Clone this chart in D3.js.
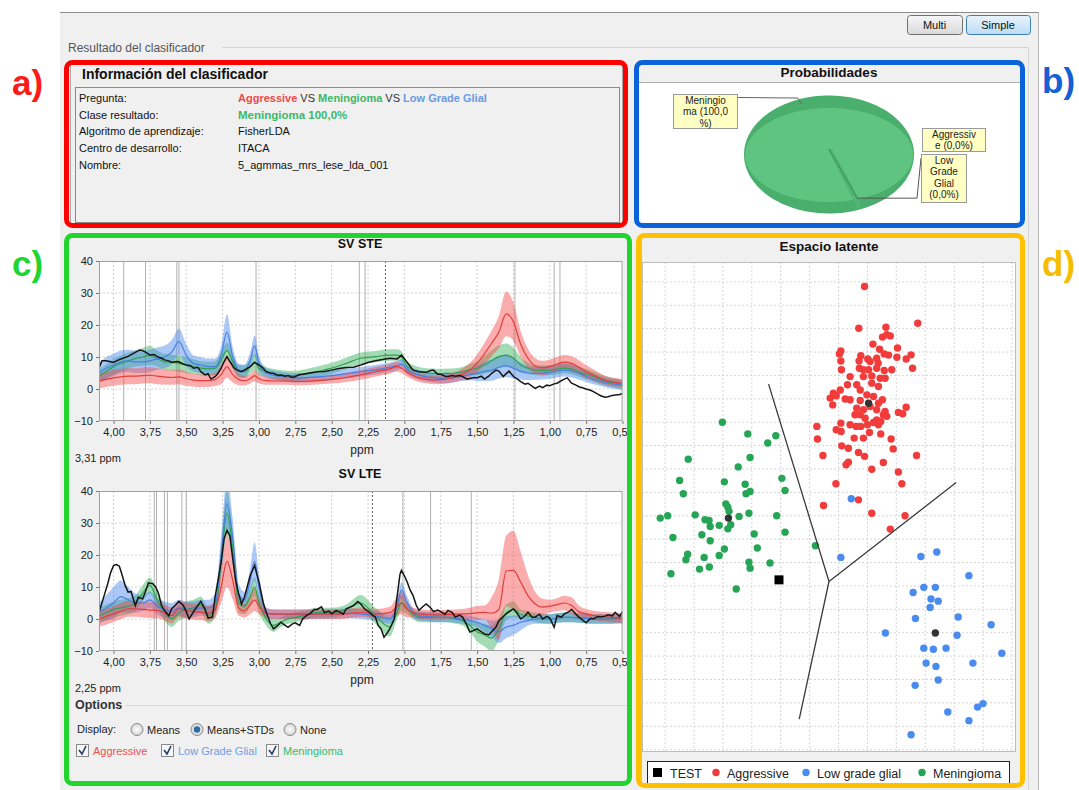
<!DOCTYPE html>
<html><head><meta charset="utf-8">
<script src="https://cdn.jsdelivr.net/npm/d3@7"></script>
<style>body{margin:0;background:#fff;}svg{display:block;font-family:"Liberation Sans",Arial,sans-serif;}</style>
</head><body><svg id="c" width="1079" height="790"></svg>
<script>
// ---------------- DATA ----------------
const infoLabels = ["Pregunta:", "Clase resultado:", "Algoritmo de aprendizaje:", "Centro de desarrollo:", "Nombre:"];
const infoPlain = ["", "", "FisherLDA", "ITACA", "5_agmmas_mrs_lese_lda_001"];
const classNames = ["Aggressive", "Meningioma", "Low Grade Glial"];
const resultText = "Meningioma 100,0%";

const probLabels = [["Meningio","ma (100,0","%)"], ["Aggressiv","e (0,0%)"], ["Low","Grade","Glial","(0,0%)"]];
const probValues = [100.0, 0.0, 0.0];

const ppm = [4.10,4.05,4.00,3.95,3.90,3.85,3.80,3.75,3.70,3.65,3.60,3.55,3.50,3.45,3.40,3.35,3.30,
  3.26,3.22,3.18,3.14,3.10,3.06,3.03,3.00, 2.95,2.90,2.85,2.80,2.75,2.70, 2.60,2.50,2.40,2.30,2.20,2.10,
  2.05,2.02,1.98,1.94,1.90,
  1.85,1.80,1.75,1.70,1.65,1.60,1.55,1.50,1.45,1.40,1.35,1.30,1.25,1.20,1.15,1.10,1.05,1.00,0.95,0.90,0.85,0.80,0.75,0.70,0.65,0.60,0.55,0.50];
const ppmTicks = [4.00,3.75,3.50,3.25,3.00,2.75,2.50,2.25,2.00,1.75,1.50,1.25,1.00,0.75,0.50];
const intensityTicks = [-10,0,10,20,30,40];

// SV STE
const aggSTE = [2.5,3.0,3.5,3.8,4.0,4.0,4.2,4.3,4.0,3.8,3.6,3.8,3.2,2.8,2.6,2.6,3.0,
  4.5,7.0,4.5,3.0,2.6,3.2,4.2,3.2, 2.6,2.5,2.5,2.5,2.4,2.4, 2.6,3.0,3.6,4.4,5.4,6.3,
  7.0,6.5,5.2,4.2,3.5,
  3.1,2.8,2.9,3.2,3.8,4.6,5.9,8.0,11.0,14.3,17.8,23.5,21.0,14.0,9.6,7.2,6.6,7.0,7.8,8.4,8.0,6.8,5.4,4.4,3.3,2.5,2.1,1.8];
const aggSdSTE = [2.3,2.4,2.5,2.5,2.5,2.5,2.5,2.5,2.5,2.4,2.3,2.3,2.2,2.0,2.0,2.0,2.0,
  3.0,3.5,2.5,1.8,1.5,1.5,1.8,1.5, 1.3,1.2,1.2,1.2,1.2,1.2, 1.2,1.3,1.4,1.5,1.5,1.5,
  1.5,1.5,1.4,1.3,1.3,
  1.3,1.3,1.3,1.4,1.5,1.8,2.2,2.8,3.3,4.0,5.0,7.0,6.0,4.0,3.0,2.4,2.2,2.2,2.2,2.2,2.2,2.2,2.0,1.8,1.5,1.3,1.3,1.3];
const lggSTE = [5.0,6.5,7.5,8.5,8.8,8.5,8.5,8.8,9.5,10.0,11.5,14.8,10.5,8.0,7.5,7.0,7.0,
  10.5,17.8,10.0,6.0,5.6,9.0,13.5,8.0, 5.0,4.3,3.9,3.6,3.5,3.5, 3.8,4.2,4.8,5.4,6.0,6.8,
  7.3,7.8,6.0,5.0,4.4,
  3.8,3.5,3.3,3.3,3.6,4.0,4.5,4.9,5.5,5.9,6.8,7.2,6.5,5.6,5.0,4.9,5.0,5.2,5.6,5.9,5.6,4.9,4.0,3.1,2.4,1.8,1.5,1.2];
const lggSdSTE = [3.0,3.5,3.5,3.5,3.5,3.5,3.5,3.5,3.5,3.5,3.8,4.0,3.5,2.5,2.5,2.5,2.5,
  3.0,5.5,3.0,2.0,2.0,2.5,3.2,2.5, 1.5,1.5,1.5,1.5,1.5,1.5, 1.5,1.5,1.5,1.5,1.5,1.5,
  1.5,1.5,1.5,1.5,1.5,
  1.5,1.5,1.5,1.5,1.5,1.5,1.8,2.4,3.0,3.3,3.5,3.5,3.2,2.6,2.2,2.0,2.0,2.0,2.0,2.0,2.0,2.0,1.8,1.6,1.5,1.5,1.5,1.5];
const menSTE = [4.0,5.5,7.0,8.0,8.8,9.5,10.0,10.5,9.5,8.5,8.3,8.0,7.5,7.0,6.5,6.3,6.5,
  9.0,12.0,8.5,5.5,5.4,7.0,8.5,6.5, 5.4,4.8,4.4,4.2,4.2,4.5, 5.4,6.5,8.0,9.6,10.1,10.6,
  10.6,10.0,7.0,6.0,5.4,
  5.0,4.9,4.8,4.9,5.0,5.4,6.0,6.5,7.5,8.8,10.1,10.6,9.6,7.5,6.5,5.9,5.8,5.9,6.2,6.5,6.2,5.4,4.6,3.9,3.0,2.3,1.8,1.4];
const menSdSTE = [2.0,2.2,2.5,2.5,2.5,2.5,2.8,3.0,2.5,2.5,2.5,2.5,2.5,2.3,2.2,2.2,2.2,
  2.5,2.5,2.2,2.0,2.0,2.2,2.5,2.2, 1.5,1.5,1.5,1.5,1.5,1.5, 1.6,1.7,1.8,1.8,1.8,1.8,
  1.8,1.8,1.6,1.5,1.5,
  1.5,1.5,1.5,1.5,1.5,1.5,1.8,2.2,2.8,3.3,3.6,3.6,3.3,2.5,1.8,1.6,1.6,1.6,1.6,1.6,1.6,1.6,1.6,1.6,1.6,1.5,1.5,1.5];
const testPpmSTE = [4.10,4.08,4.05,4.02,4.00,3.97,3.95,3.90,3.86,3.82, 3.80,3.78,3.75,3.72,3.70,3.67,3.65,3.62,3.60,3.57,
  3.55,3.52,3.50,3.47,3.45,3.42,3.40,3.37,3.35,3.33, 3.30,3.28,3.26,3.24,3.22,3.20,3.17,3.15,3.12,3.09,
  3.06,3.03,3.00,2.97,2.95,2.92,2.90,2.87,2.85,2.82, 2.80,2.77,2.75,2.72,2.70,2.65,2.60,2.55,2.50,2.45,
  2.40,2.35,2.30,2.25,2.20,2.15,2.10,2.05,2.02,1.98, 1.94,1.90,1.85,1.82,1.80,1.77,1.75,1.72,1.70,1.67,
  1.65,1.62,1.60,1.57,1.55,1.52,1.50,1.47,1.45,1.42, 1.40,1.37,1.35,1.32,1.30,1.28,1.25,1.22,1.20,1.17,
  1.15,1.12,1.10,1.07,1.05,1.02,1.00,0.97,0.95,0.92, 0.90,0.88,0.85,0.82,0.80,0.77,0.75,0.72,0.70,0.67,
  0.65,0.62,0.60,0.57,0.55,0.52,0.50];
const testSTE = [6.5,8.8,8.8,8.5,8.3,9.0,9.4,10.2,11.2,12.2, 12.0,11.5,10.6,10.8,10.1,9.6,9.1,8.8,8.3,8.6,
  8.5,7.8,7.5,7.3,6.5,6.8,5.4,4.4,4.8,3.1, 3.9,5.0,6.5,8.5,10.1,8.6,6.5,5.9,5.4,6.2,
  7.0,8.3,7.5,6.5,5.4,5.0,4.9,4.2,4.4,4.0, 4.2,3.6,3.9,4.5,4.6,5.0,5.4,5.5,5.9,6.4,
  6.7,6.8,7.5,8.3,8.8,9.2,9.6,9.4,10.6,8.3, 5.9,5.4,5.2,5.8,5.9,4.6,4.6,4.0,3.9,4.2,
  4.0,4.2,3.9,3.1,3.3,3.6,3.5,4.0,3.1,4.0, 4.9,5.9,5.6,3.9,4.8,5.6,3.9,3.0,2.3,1.5,
  1.8,0.8,0.2,0.9,0.4,1.2,1.0,1.6,1.8,2.6, 3.1,3.5,1.8,1.2,0.7,0.3,0.0,-0.4,-0.8,-1.6,
  -2.1,-2.6,-2.4,-2.0,-1.9,-1.7,-1.4];
const featuresSTE = [3.93,3.78,3.565,3.55,3.02,2.31,2.27,1.24,0.97,0.93];
const cursorSTE = 2.13;

// SV LTE
const aggLTE = [0.0,0.8,1.6,2.4,3.2,3.2,3.0,2.8,2.7,2.0,1.1,3.2,2.6,2.3,2.1,1.8,3.0,
  10.0,18.0,12.0,3.5,2.5,4.5,6.0,4.0, 1.8,1.5,1.5,1.5,1.5,1.5, 1.5,1.5,1.6,2.1,1.6,2.0,
  4.0,5.0,3.0,2.0,1.6,
  1.4,1.3,1.3,1.4,1.5,1.6,1.7,1.9,2.1,1.8,3.0,15.0,15.2,11.5,7.3,4.7,3.7,4.0,4.5,5.0,4.2,2.3,1.6,1.1,0.8,0.6,0.4,0.2];
const aggSdLTE = [2.5,2.5,2.5,2.5,2.5,2.5,2.5,2.5,2.5,2.5,2.5,2.5,2.5,2.5,2.5,2.5,2.5,
  5.0,8.0,6.0,2.5,2.0,3.0,3.5,2.5, 1.5,1.5,1.5,1.5,1.5,1.5, 1.5,1.5,1.5,1.5,1.5,1.8,
  3.0,3.5,2.5,1.5,1.5,
  1.5,1.5,1.5,1.5,1.5,1.5,1.8,2.2,2.1,5.0,9.5,11.0,12.4,9.4,6.3,3.7,2.6,2.0,2.0,2.3,2.6,1.9,1.5,1.5,1.5,1.5,1.5,1.5];
const lggLTE = [2.0,3.5,5.0,7.0,6.0,5.0,5.0,6.0,4.0,3.0,2.5,3.5,3.0,3.0,3.5,3.5,5.0,
  20.0,36.0,25.0,8.0,6.0,12.0,18.0,10.0, 2.0,1.5,1.5,1.5,1.5,1.5, 1.5,1.5,1.8,1.5,1.0,0.0,
  4.0,9.0,5.0,2.0,1.0,
  0.8,0.6,0.5,0.5,0.3,0.0,-0.5,-1.0,-2.0,-3.0,-4.0,-2.5,-2.0,-1.0,-0.5,0.0,0.0,0.0,0.3,0.5,0.5,0.3,0.2,0.0,0.0,0.0,0.0,0.0];
const lggSdLTE = [3.0,4.0,5.0,5.0,4.0,3.0,2.5,2.5,2.5,2.5,2.5,2.5,2.5,2.5,2.5,2.5,3.0,
  6.0,8.0,6.0,3.0,2.5,4.0,6.0,4.0, 1.5,1.5,1.5,1.5,1.5,1.5, 1.5,1.5,1.5,1.5,1.5,1.5,
  2.0,2.5,2.0,1.5,1.5,
  1.5,1.5,1.5,1.5,1.5,1.5,1.5,1.5,2.0,2.5,3.5,3.5,3.0,2.5,1.5,1.5,1.5,1.5,1.5,1.5,1.5,1.5,1.5,1.5,1.5,1.5,1.5,1.5];
const menLTE = [1.0,2.0,3.0,3.5,4.0,5.0,8.0,10.5,6.0,2.0,0.0,2.0,3.0,3.5,4.5,1.0,3.0,
  18.0,33.0,22.0,5.0,4.0,7.0,10.0,5.0, 0.0,-2.0,-1.0,0.0,0.5,1.0, 2.0,2.0,3.0,5.0,1.0,-2.5,
  2.0,5.0,3.0,1.5,0.5,
  0.5,0.5,0.5,0.5,0.0,-0.5,-2.0,-4.0,-5.0,-6.0,-3.0,2.0,3.0,1.5,1.0,0.5,0.2,0.0,0.3,0.5,0.5,0.3,0.2,0.0,0.0,0.0,0.2,0.3];
const menSdLTE = [2.5,2.5,2.5,2.5,2.5,2.5,2.5,2.5,2.5,2.5,2.5,2.5,2.5,2.5,2.5,2.5,2.5,
  5.0,7.0,5.0,3.0,2.5,3.0,3.0,3.0, 2.0,2.0,1.5,1.5,1.5,1.5, 1.5,1.5,1.5,2.5,2.5,3.0,
  2.0,2.5,1.5,1.5,1.5,
  1.5,1.5,1.5,1.5,1.5,1.5,2.0,3.0,3.5,4.0,3.5,2.5,2.5,1.5,1.5,1.5,1.5,1.5,1.5,1.5,1.5,1.5,1.5,1.5,1.5,1.5,1.5,1.5];
const testPpmLTE = [4.10,4.08,4.06,4.04,4.02,4.00,3.98,3.96,3.94,3.92, 3.90,3.88,3.85,3.83,3.80,3.78,3.76,3.73,3.71,3.69,
  3.67,3.65,3.62,3.60,3.57,3.55,3.52,3.50,3.48,3.45, 3.42,3.40,3.37,3.35,3.32,3.30,3.26,3.24,3.22,3.20,
  3.18,3.16,3.14,3.12,3.10,3.06,3.03,3.00,2.97,2.95, 2.92,2.90,2.87,2.85,2.82,2.80,2.77,2.75,2.72,2.70,
  2.67,2.65,2.62,2.60,2.57,2.55,2.52,2.50,2.47,2.45, 2.42,2.40,2.37,2.35,2.32,2.30,2.27,2.25,2.22,2.20,
  2.18,2.16,2.14,2.12,2.10,2.07,2.05,2.03,2.02,2.00, 1.98,1.96,1.94,1.92,1.90,1.87,1.85,1.82,1.80,1.77,
  1.75,1.72,1.70,1.67,1.65,1.62,1.60,1.57,1.55,1.52, 1.50,1.47,1.45,1.42,1.40,1.37,1.35,1.32,1.30,1.27,
  1.25,1.22,1.20,1.17,1.15,1.12,1.10,1.07,1.05,1.02, 1.00,0.97,0.95,0.92,0.90,0.87,0.85,0.82,0.80,0.77,
  0.75,0.72,0.70,0.67,0.65,0.62,0.60,0.57,0.55,0.52,0.50];
const testLTE = [2.1,5.0,8.0,11.0,14.5,16.7,17.0,16.5,13.6,10.5, 8.4,8.6,4.2,6.8,6.3,8.6,11.3,11.0,10.0,7.9,
  4.2,2.7,1.0,3.2,4.5,5.5,4.2,2.3,0.0,2.3, 4.2,5.5,3.0,0.3,0.6,7.3,17.8,25.0,27.7,26.0,
  18.8,12.0,7.9,4.7,6.8,13.6,16.7,11.5,5.0,2.1, -1.5,-3.1,-2.0,-1.0,-2.0,-2.6,-1.5,-1.2,-2.0,0.0,
  1.2,1.6,3.0,3.0,3.8,2.0,2.5,1.6,2.6,2.3, 1.5,3.2,3.8,4.2,5.5,4.7,3.0,2.5,1.2,0.6,
  -2.0,-3.1,-5.7,-4.5,-3.0,0.0,7.0,14.0,15.2,13.5, 11.5,9.0,7.3,4.5,2.7,4.0,4.7,3.5,2.3,2.8,
  2.3,1.5,2.7,2.0,0.6,1.2,0.6,-2.0,-4.1,-3.5, -3.1,-4.0,-4.6,-5.0,-4.0,-2.5,-0.5,0.8,1.6,2.5,
  3.2,1.5,0.0,1.0,2.1,0.5,0.6,1.5,0.0,0.8, 0.3,-2.6,1.1,0.6,1.6,2.2,3.0,1.5,0.6,-0.5,
  -1.2,0.2,0.0,0.8,0.6,0.9,1.3,1.0,2.1,0.8,2.3];
const featuresLTE = [3.72,3.705,3.65,3.63,3.53,3.50,2.01,1.82,1.54];
const cursorLTE = 2.22;

// Latent space (LDA components)
const aggressivePts = [[6.90,19.80],[6.70,18.02],[7.64,18.06],[8.74,18.23],[7.52,17.64],[7.67,17.74],[7.79,17.69],[7.19,17.34],
 [7.42,17.12],[8.04,17.17],[6.08,17.05],[6.03,16.92],[6.77,16.84],[7.01,16.70],[7.32,16.74],[7.58,16.92],[7.73,16.87],[8.02,16.78],
 [8.34,16.70],[8.51,16.88],[6.08,16.62],[6.71,16.62],[7.09,16.60],[7.37,16.52],[6.10,16.24],[6.72,16.31],[7.04,16.24],[7.32,16.31],
 [7.58,16.21],[7.84,16.24],[8.56,16.31],[6.86,15.95],[7.15,15.98],[7.44,15.88],[7.61,15.88],[6.31,15.60],[6.63,15.60],[6.06,15.38],
 [5.82,15.24],[5.71,15.03],[5.92,15.13],[5.80,14.74],[6.23,14.99],[6.40,14.96],[6.75,14.93],[6.98,15.17],[7.21,15.10],[7.52,14.96],
 [6.63,14.60],[6.86,14.53],[7.32,14.53],[7.61,14.46],[7.55,14.32],[8.07,14.42],[8.22,14.36],[8.34,14.64],[6.75,14.32],[6.92,14.17],
 [7.32,14.10],[7.21,13.99],[7.46,14.03],[6.08,13.96],[6.40,13.89],[6.61,13.82],[6.77,13.82],[7.38,13.89],[5.25,13.82],[5.92,13.68],
 [6.09,13.60],[7.07,13.56],[7.46,13.50],[6.86,13.32],[6.54,13.32],[5.27,13.28],[7.82,13.28],[6.11,12.99],[6.34,12.89],[7.89,12.86],
 [6.69,12.71],[6.90,12.54],[5.46,12.58],[8.70,12.58],[6.26,12.18],[6.34,12.29],[7.55,12.28],[7.15,11.99],[8.07,11.87],[5.91,11.37],
 [8.19,11.37],[5.48,10.44],[6.69,10.68],[7.15,10.11],[8.30,10.00],[7.79,9.43],[6.86,16.24],[7.15,15.67],[7.38,15.53],[6.75,15.38],
 [7.09,14.67],[7.38,14.81],[7.67,14.25],[6.57,14.32],[7.00,13.89],[6.40,15.95]];
const lowGradePts = [[6.44,10.73],[6.08,8.22],[8.85,8.26],[9.40,8.45],[10.51,7.44],[8.58,6.72],[8.95,6.94],[9.35,6.94],[9.20,6.44],
 [9.45,6.35],[9.17,6.08],[8.66,5.61],[10.14,5.67],[11.28,5.34],[7.62,4.99],[10.10,4.89],[8.95,4.34],[9.28,4.29],[9.72,4.34],
 [11.65,4.12],[9.03,3.70],[9.37,3.56],[10.65,3.70],[9.45,2.98],[8.65,2.75],[9.78,1.61],[10.81,1.82],[11.00,1.97],[10.51,1.24],[8.51,0.64]];
const meningiomaPts = [[1.98,14.00],[2.86,13.50],[3.83,13.42],[3.55,13.11],[2.94,12.49],[0.80,12.42],[2.53,12.09],[0.50,11.51],
 [2.05,11.45],[2.77,11.35],[4.04,11.60],[0.63,10.94],[2.80,10.94],[2.94,11.04],[4.15,11.08],[2.10,10.51],[2.17,10.37],[2.21,10.19],
 [-0.17,9.90],[0.09,10.00],[1.04,10.04],[1.38,9.83],[1.52,9.80],[2.56,9.97],[2.90,10.11],[3.86,10.00],[1.56,9.54],[1.87,9.59],
 [2.17,9.44],[2.27,9.62],[0.27,9.07],[1.27,9.19],[1.56,8.93],[3.08,9.22],[4.15,9.30],[2.05,8.58],[3.19,8.62],[1.87,8.30],[1.35,8.22],
 [0.78,8.36],[0.72,8.12],[0.20,7.52],[1.19,7.72],[1.53,7.81],[2.90,8.01],[2.94,7.76],[3.63,7.98],[2.46,6.87],[5.20,8.72]];
const classCentres = [[7.04,14.81],[9.35,4.99],[2.19,9.90]];
const testPoint = [3.94,7.26];
const boundaryJunction = [5.67,7.19];
const boundaryEnds = [[3.58,15.63],[10.07,11.42],[4.64,1.31]];
const legendItems = ["TEST","Aggressive","Low grade glial","Meningioma"];

// ---------------- DRAW ----------------
const svg = d3.select("#c");

svg.append("rect").attr("width",1079).attr("height",790).attr("fill","#fff");
svg.append("rect").attr("x",60).attr("y",12).attr("width",978).attr("height",778).attr("fill","#f0f0f0");
svg.append("line").attr("x1",60).attr("x2",1038).attr("y1",12.5).attr("y2",12.5).attr("stroke","#8c8c8c");
svg.append("line").attr("x1",1038.5).attr("x2",1038.5).attr("y1",12).attr("y2",790).attr("stroke","#b4b4b4");

const defs = svg.append("defs");
const g1 = defs.append("linearGradient").attr("id","btn").attr("x1",0).attr("y1",0).attr("x2",0).attr("y2",1);
g1.append("stop").attr("offset","0").attr("stop-color","#f7f7f7");
g1.append("stop").attr("offset","1").attr("stop-color","#d9d9d9");
const g2 = defs.append("linearGradient").attr("id","btn2").attr("x1",0).attr("y1",0).attr("x2",0).attr("y2",1);
g2.append("stop").attr("offset","0").attr("stop-color","#e8f4fc");
g2.append("stop").attr("offset","1").attr("stop-color","#bcdcf4");
const rg = defs.append("radialGradient").attr("id","radio");
rg.append("stop").attr("offset","0").attr("stop-color","#ffffff");
rg.append("stop").attr("offset","1").attr("stop-color","#d4d4d4");

[["Multi",907,55,"url(#btn)","#707070"],["Simple",966,64,"url(#btn2)","#3c7fb1"]].forEach(b=>{
  svg.append("rect").attr("x",b[1]+0.5).attr("y",15.5).attr("width",b[2]).attr("height",19).attr("rx",3)
    .attr("fill",b[3]).attr("stroke",b[4]);
  svg.append("text").attr("x",b[1]+b[2]/2).attr("y",29).attr("text-anchor","middle")
    .attr("font-size",11).attr("fill","#111").text(b[0]);
});

svg.append("text").attr("x",68).attr("y",52).attr("font-size",12).attr("fill","#555").text("Resultado del clasificador");
svg.append("line").attr("x1",222).attr("x2",1028).attr("y1",47.5).attr("y2",47.5).attr("stroke","#d6d6d6");
svg.append("line").attr("x1",1028.5).attr("x2",1028.5).attr("y1",47).attr("y2",790).attr("stroke","#d6d6d6");

// ---- panel a
svg.append("rect").attr("x",70.5).attr("y",64.5).attr("width",552).attr("height",160).attr("fill","none").attr("stroke","#a8a8a8");
svg.append("text").attr("x",82).attr("y",79).attr("font-size",14).attr("font-weight","bold").attr("fill","#111").text("Información del clasificador");
svg.append("rect").attr("x",75.5).attr("y",87.5).attr("width",544).attr("height",135).attr("fill","#f0f0f0").attr("stroke","#8a8a8a");
infoLabels.forEach((t,i)=>{
  const yy = 102 + i*16.7;
  svg.append("text").attr("x",79).attr("y",yy).attr("font-size",11).attr("fill","#111").text(t);
  if(infoPlain[i]) svg.append("text").attr("x",238).attr("y",yy).attr("font-size",11).attr("fill","#111").text(infoPlain[i]);
});
{
  const t = svg.append("text").attr("x",238).attr("y",102).attr("font-size",11);
  t.append("tspan").attr("font-weight","bold").attr("fill","#f04a4a").text(classNames[0]);
  t.append("tspan").attr("fill","#333").text(" VS ");
  t.append("tspan").attr("font-weight","bold").attr("fill","#3cb868").text(classNames[1]);
  t.append("tspan").attr("fill","#333").text(" VS ");
  t.append("tspan").attr("font-weight","bold").attr("fill","#6a9ae6").text(classNames[2]);
  svg.append("text").attr("x",238).attr("y",118.7).attr("font-size",11.5).attr("font-weight","bold").attr("fill","#3cb868").text(resultText);
}
svg.append("rect").attr("x",66.5).attr("y",62.5).attr("width",559).attr("height",163).attr("rx",6)
  .attr("fill","none").attr("stroke","#ff0000").attr("stroke-width",5);

// ---- panel b : pie
svg.append("rect").attr("x",639).attr("y",82).attr("width",381).attr("height",143).attr("fill","#fff");
svg.append("line").attr("x1",639).attr("x2",1020).attr("y1",82.5).attr("y2",82.5).attr("stroke","#b0b0b0");
svg.append("text").attr("x",829).attr("y",77).attr("text-anchor","middle").attr("font-size",13.5).attr("font-weight","bold").attr("fill","#111").text("Probabilidades");
{
  const cx=829, cy=155, rx=84, ry=47, orx=85, ocy=154.5, ory=59;
  const start = 160*Math.PI/180;
  const arcs = d3.pie().sort(null).startAngle(start).endAngle(start+2*Math.PI)(probValues);
  const ept = (a,r1,r2,c) => [cx + r1*Math.sin(a), c - r2*Math.cos(a)];
  const pg = svg.append("g");
  arcs.forEach(a=>{
    if(a.endAngle - a.startAngle <= 0) return;
    const pts = d3.range(0,121).map(k=>a.startAngle + (a.endAngle-a.startAngle)*k/120);
    const outer = pts.map(t=>ept(t,orx,ory,ocy));
    const top = pts.map(t=>ept(t,rx,ry,cy));
    pg.append("path").attr("d",d3.line()(outer)+"Z").attr("fill","#4aae6c");
    pg.append("path").attr("d",d3.line()([[cx,cy]].concat(top))+"Z").attr("fill","#5ec47f");
  });
  const e = ept(start,rx,ry,cy);
  pg.append("path").attr("d",d3.line()([[cx-1,cy-6],[cx+3,cy-6],[e[0]+2,e[1]+1],[e[0]+2,e[1]+10],[e[0]-1,e[1]+8]])+"Z").attr("fill","#55b575");
  pg.append("line").attr("x1",cx).attr("y1",cy-6).attr("x2",e[0]).attr("y2",e[1]).attr("stroke","#3e9a5c").attr("stroke-width",1.3);
  const mid = arcs[0].startAngle + (arcs[0].endAngle-arcs[0].startAngle)/2;
  const m = ept(mid,orx,ory,ocy);
  pg.append("path").attr("d",d3.line()([[m[0]+2,m[1]+5],[m[0]-2,m[1]-1],[742,97.5],[737,97.5]])).attr("fill","none").attr("stroke","#666");
  pg.append("path").attr("d",d3.line()([[e[0],e[1]-1],[917,e[1]-1],[921,158]])).attr("fill","none").attr("stroke","#555");
  const boxes = [[673,94,64,34],[922,128,63,23],[921,154,45,48]];
  probLabels.forEach((lines,i)=>{
    const b = boxes[i];
    pg.append("rect").attr("x",b[0]+0.5).attr("y",b[1]+0.5).attr("width",b[2]).attr("height",b[3]).attr("fill","#ffffc4").attr("stroke","#9a9a9a");
    lines.forEach((l,j)=>pg.append("text").attr("x",b[0]+b[2]/2+0.5).attr("y",b[1]+10+j*11.3).attr("text-anchor","middle")
      .attr("font-size",10).attr("fill","#222").text(l));
  });
}
svg.append("rect").attr("x",636.5).attr("y",62.5).attr("width",386).attr("height",163).attr("rx",6)
  .attr("fill","none").attr("stroke","#0a63d8").attr("stroke-width",5);

// ---- panel c : spectra
const XR = [99, 622.5];
const fmtC = d3.formatLocale({decimal:",",thousands:".",grouping:[3],currency:["",""]}).format(".2f");
const clipC = defs.append("clipPath").attr("id","clipC");
clipC.append("rect").attr("x",64).attr("y",233).attr("width",563).attr("height",555);
const gc = svg.append("g").attr("clip-path","url(#clipC)");

function spectrum(o, idx){
  const x = d3.scaleLinear().domain([4.1,0.5]).range(XR);
  const y = d3.scaleLinear().domain([-10,40]).range([o.y1,o.y0]);
  const W = XR[1]-XR[0];
  const g = gc.append("g");
  g.append("text").attr("x",360).attr("y",o.y0-13).attr("text-anchor","middle").attr("font-size",12.5)
    .attr("font-weight","bold").attr("fill","#111").text(o.title);
  g.append("rect").attr("x",XR[0]).attr("y",o.y0).attr("width",W).attr("height",o.y1-o.y0).attr("fill","#fff");
  const cp = defs.append("clipPath").attr("id","cp"+idx);
  cp.append("rect").attr("x",XR[0]).attr("y",o.y0).attr("width",W).attr("height",o.y1-o.y0);
  const p = g.append("g").attr("clip-path","url(#cp"+idx+")");
  ppmTicks.forEach(t=>p.append("line").attr("x1",x(t)).attr("x2",x(t)).attr("y1",o.y0).attr("y2",o.y1)
    .attr("stroke","#cfcfcf").attr("stroke-dasharray","2,2"));
  intensityTicks.forEach(t=>p.append("line").attr("x1",XR[0]).attr("x2",XR[1]).attr("y1",y(t)).attr("y2",y(t))
    .attr("stroke","#d4d4d4").attr("stroke-dasharray","2,2"));
  o.features.forEach(f=>p.append("line").attr("x1",x(f)).attr("x2",x(f)).attr("y1",o.y0).attr("y2",o.y1)
    .attr("stroke","#b0b0b0").attr("stroke-width",1));
  p.append("line").attr("x1",x(o.cursor)).attr("x2",x(o.cursor)).attr("y1",o.y0).attr("y2",o.y1)
    .attr("stroke","#555").attr("stroke-dasharray","2,2");
  const series = [
    {m:o.men, s:o.menSd, band:"rgba(52,178,88,0.45)", line:"#2f9f55"},
    {m:o.lgg, s:o.lggSd, band:"rgba(70,132,238,0.45)", line:"#4a7fe0"},
    {m:o.agg, s:o.aggSd, band:"rgba(246,70,70,0.45)", line:"#e23c3c"}];
  series.forEach(sr=>{
    const d = ppm.map((v,i)=>({x:v, m:sr.m[i], s:sr.s[i]}));
    p.append("path").datum(d).attr("fill",sr.band)
      .attr("d",d3.area().x(q=>x(q.x)).y0(q=>y(q.m-q.s)).y1(q=>y(q.m+q.s)).curve(d3.curveMonotoneX));
  });
  series.forEach(sr=>{
    const d = ppm.map((v,i)=>({x:v, m:sr.m[i]}));
    p.append("path").datum(d).attr("fill","none").attr("stroke",sr.line).attr("stroke-width",1.2)
      .attr("d",d3.line().x(q=>x(q.x)).y(q=>y(q.m)).curve(d3.curveMonotoneX));
  });
  const td = o.testPpm.map((v,i)=>({x:v, m:o.test[i]}));
  p.append("path").datum(td).attr("fill","none").attr("stroke","#151515").attr("stroke-width",1.5)
    .attr("d",d3.line().x(q=>x(q.x)).y(q=>y(q.m)));
  g.append("rect").attr("x",XR[0]+0.5).attr("y",o.y0+0.5).attr("width",W-1).attr("height",o.y1-o.y0-1)
    .attr("fill","none").attr("stroke","#a0a0a0");
  const ax = g.append("g").attr("transform",`translate(0,${o.y1})`)
    .call(d3.axisBottom(x).tickValues(ppmTicks).tickFormat(fmtC).tickSize(3).tickPadding(4));
  const ay = g.append("g").attr("transform",`translate(${XR[0]},0)`)
    .call(d3.axisLeft(y).tickValues(intensityTicks).tickFormat(d3.format("d")).tickSize(3).tickPadding(3));
  [ax,ay].forEach(a=>{a.select(".domain").remove(); a.selectAll("line").attr("stroke","#777");
    a.selectAll("text").attr("font-size",11).attr("fill","#222").attr("font-family","Liberation Sans, Arial, sans-serif");});
  g.append("text").attr("x",362).attr("y",o.y1+33).attr("text-anchor","middle").attr("font-size",12).attr("fill","#222").text("ppm");
  g.append("text").attr("x",75).attr("y",o.y1+41).attr("font-size",11).attr("fill","#222").text(o.cursorLabel);
}
spectrum({title:"SV STE", y0:261, y1:421, agg:aggSTE, aggSd:aggSdSTE, lgg:lggSTE, lggSd:lggSdSTE, men:menSTE, menSd:menSdSTE,
  testPpm:testPpmSTE, test:testSTE, features:featuresSTE, cursor:cursorSTE, cursorLabel:"3,31 ppm"}, 1);
spectrum({title:"SV LTE", y0:491, y1:651, agg:aggLTE, aggSd:aggSdLTE, lgg:lggLTE, lggSd:lggSdLTE, men:menLTE, menSd:menSdLTE,
  testPpm:testPpmLTE, test:testLTE, features:featuresLTE, cursor:cursorLTE, cursorLabel:"2,25 ppm"}, 2);

// options
gc.append("text").attr("x",75).attr("y",709).attr("font-size",12.5).attr("font-weight","bold").attr("fill","#333").text("Options");
gc.append("line").attr("x1",126).attr("x2",627).attr("y1",705.5).attr("y2",705.5).attr("stroke","#d8d8d8");
gc.append("text").attr("x",77).attr("y",733).attr("font-size",11).attr("fill","#222").text("Display:");
[["Means",137,false],["Means+STDs",197,true],["None",290,false]].forEach(r=>{
  gc.append("circle").attr("cx",r[1]).attr("cy",729.5).attr("r",6).attr("fill","url(#radio)").attr("stroke","#8a8a8a");
  if(r[2]) gc.append("circle").attr("cx",r[1]).attr("cy",729.5).attr("r",3.2).attr("fill","#2b6ea3");
  gc.append("text").attr("x",r[1]+10).attr("y",733.5).attr("font-size",11).attr("fill","#222").text(r[0]);
});
[["Aggressive",76,"#e85252"],["Low Grade Glial",161,"#6e9ee6"],["Meningioma",266,"#3cb868"]].forEach(c=>{
  gc.append("rect").attr("x",c[1]+0.5).attr("y",744.5).attr("width",12).attr("height",12).attr("fill","#f6f6f6").attr("stroke","#8a8a8a");
  gc.append("path").attr("d",`M${c[1]+3},${750}L${c[1]+6},${754}L${c[1]+10},${746}`).attr("fill","none").attr("stroke","#253a66").attr("stroke-width",1.6);
  gc.append("text").attr("x",c[1]+17).attr("y",754.5).attr("font-size",11).attr("fill",c[2]).text(c[0]);
});
svg.append("rect").attr("x",66.5).attr("y",235.5).attr("width",563).attr("height",548).attr("rx",6)
  .attr("fill","none").attr("stroke","#22d42e").attr("stroke-width",5);

// ---- panel d : latent space
svg.append("text").attr("x",829).attr("y",251).attr("text-anchor","middle").attr("font-size",13.5).attr("font-weight","bold").attr("fill","#111").text("Espacio latente");
svg.append("line").attr("x1",641.5).attr("x2",641.5).attr("y1",238).attr("y2",786).attr("stroke","#c0c0c0");
{
  const x = d3.scaleLinear().domain([-0.8,12.14]).range([642,1016]);
  const y = d3.scaleLinear().domain([-0.1,20.85]).range([752,262]);
  svg.append("rect").attr("x",642).attr("y",262).attr("width",374).attr("height",490).attr("fill","#fff");
  const gg = svg.append("g");
  d3.range(0,13).forEach(t=>gg.append("line").attr("x1",x(t)).attr("x2",x(t)).attr("y1",262).attr("y2",752)
    .attr("stroke","#d6d6d6").attr("stroke-dasharray","2,2"));
  d3.range(0,21).forEach(t=>gg.append("line").attr("x1",642).attr("x2",1016).attr("y1",y(t)).attr("y2",y(t))
    .attr("stroke","#d6d6d6").attr("stroke-dasharray","2,2"));
  gg.append("rect").attr("x",642.5).attr("y",262.5).attr("width",373).attr("height",489).attr("fill","none").attr("stroke","#bdbdbd");
  const dots = (pts,col)=>gg.selectAll(null).data(pts).enter().append("circle")
    .attr("cx",d=>x(d[0])).attr("cy",d=>y(d[1])).attr("r",3.7).attr("fill",col);
  dots(aggressivePts,"#f23b3b");
  dots(lowGradePts,"#4a8bf0");
  dots(meningiomaPts,"#27a556");
  boundaryEnds.forEach(e=>gg.append("line").attr("x1",x(boundaryJunction[0])).attr("y1",y(boundaryJunction[1]))
    .attr("x2",x(e[0])).attr("y2",y(e[1])).attr("stroke","#3a3a3a").attr("stroke-width",1.3));
  dots(classCentres,"#333");
  gg.append("rect").attr("x",x(testPoint[0])-4.5).attr("y",y(testPoint[1])-4.5).attr("width",9).attr("height",9).attr("fill","#000");
  gg.append("rect").attr("x",647.5).attr("y",761.5).attr("width",362).attr("height",24).attr("fill","#fff").attr("stroke","#222");
  const lx = [653,716,806,922];
  gg.append("rect").attr("x",lx[0]).attr("y",768).attr("width",9).attr("height",9).attr("fill","#000");
  [["#f23b3b",1],["#4a8bf0",2],["#27a556",3]].forEach(c=>gg.append("circle").attr("cx",lx[c[1]]).attr("cy",772.5).attr("r",3.7).attr("fill",c[0]));
  legendItems.forEach((t,i)=>gg.append("text").attr("x",lx[i]+(i==0?17:11)).attr("y",777.5).attr("font-size",12.5).attr("fill","#222").text(t));
}
svg.append("rect").attr("x",638.5).attr("y",235.5).attr("width",384).attr("height",550).attr("rx",6)
  .attr("fill","none").attr("stroke","#ffc000").attr("stroke-width",5);

// ---- big labels
[["a)",12,95,"#ff1a1a"],["b)",1042,93,"#1560d2"],["c)",12,276,"#22d42e"],["d)",1042,276,"#f7bd00"]].forEach(l=>
  svg.append("text").attr("x",l[1]).attr("y",l[2]).attr("font-size",35).attr("font-weight","bold").attr("fill",l[3]).text(l[0]));
</script></body></html>
